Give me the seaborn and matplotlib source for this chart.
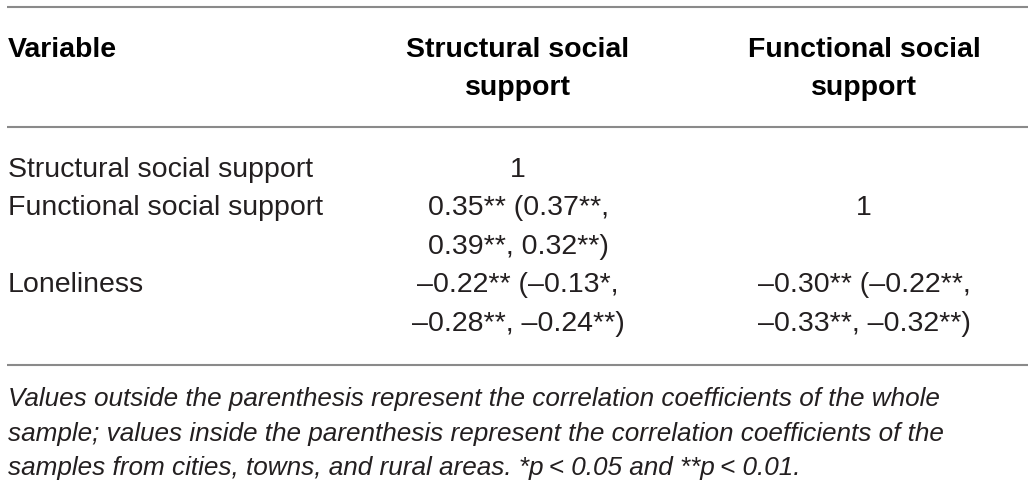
import matplotlib
matplotlib.use("Agg")
import matplotlib.pyplot as plt
import seaborn as sns

# table content
variables = ["Structural social support", "Functional social support", "Loneliness"]
col_headers = ["Structural social\nsupport", "Functional social\nsupport"]
structural = ["1",
              "0.35** (0.37**,\n0.39**, 0.32**)",
              "\u20130.22** (\u20130.13*,\n\u20130.28**, \u20130.24**)"]
functional = ["",
              "1",
              "\u20130.30** (\u20130.22**,\n\u20130.33**, \u20130.32**)"]
footnote = ["Values outside the parenthesis represent the correlation coefficients of the whole",
            "sample; values inside the parenthesis represent the correlation coefficients of the",
            "samples from cities, towns, and rural areas. *p\u2009< 0.05 and **p\u2009< 0.01."]

sns.set_theme(style="white")
plt.rcParams['font.family'] = ['Liberation Sans', 'DejaVu Sans']

W, H = 1035, 495
fig = plt.figure(figsize=(W / 100, H / 100), dpi=100)
ax = fig.add_axes([0, 0, 1, 1])
ax.set_xlim(0, W)
ax.set_ylim(H, 0)
ax.axis("off")

txt = "#231f20"
rule = "#8a8a8a"
fs = 20.5
col_x = [8, 518, 864]
line_h = 38.4

# rules
for y in [7, 127, 365]:
    ax.plot([7, 1028], [y, y], color=rule, lw=1.5, solid_capstyle="butt")

# header
ax.text(col_x[0], 57, "Variable", fontsize=fs, fontweight="bold", color="black", va="baseline")
for j, head in enumerate(col_headers):
    for k, part in enumerate(head.split("\n")):
        ax.text(col_x[j + 1], 57 + k * 38, part, fontsize=fs, fontweight="bold",
                color="black", ha="center", va="baseline")

# body rows
y0 = 177
for i, var in enumerate(variables):
    ax.text(col_x[0], y0, var, fontsize=fs, color=txt, va="baseline")
    n = 1
    for j, cell in enumerate([structural[i], functional[i]]):
        parts = cell.split("\n") if cell else []
        n = max(n, len(parts))
        for k, part in enumerate(parts):
            ax.text(col_x[j + 1], y0 + k * line_h, part, fontsize=fs, color=txt,
                    ha="center", va="baseline")
    y0 += n * line_h

# footnote
for k, line in enumerate(footnote):
    ax.text(8, 406 + k * 34.5, line, fontsize=18.8, style="italic", color=txt, va="baseline")

fig.savefig("out.png", dpi=100)
